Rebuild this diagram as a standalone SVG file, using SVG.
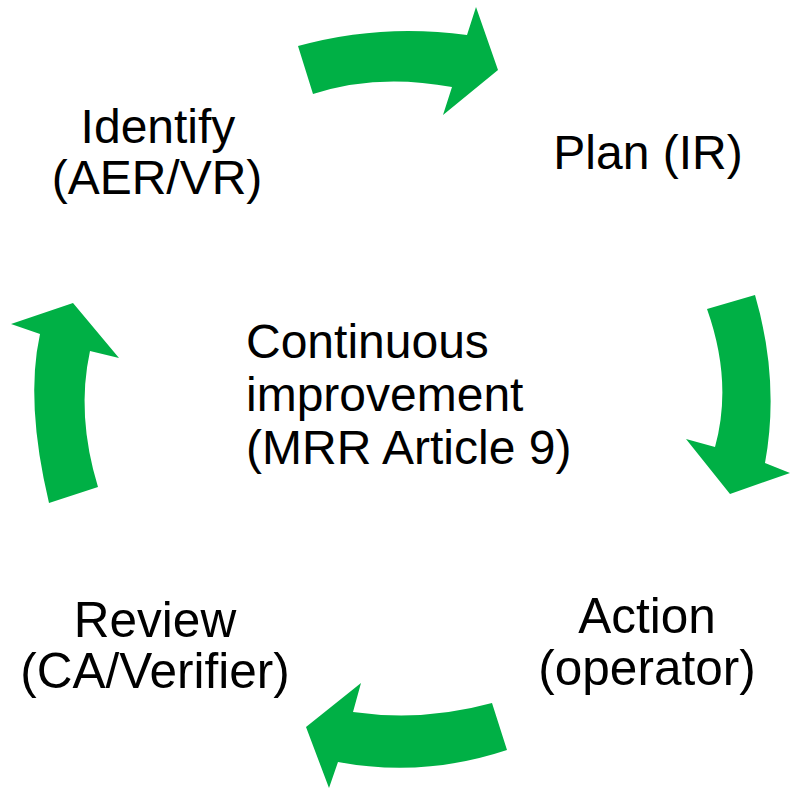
<svg xmlns="http://www.w3.org/2000/svg" width="790" height="789" viewBox="0 0 790 789">
<style>
.arrow{fill:#00B045;stroke:none}
text{font-family:"Liberation Sans",Arial,sans-serif;font-size:48px;fill:#000}
.c{text-anchor:middle}
.b{font-size:49.5px}
</style>
<rect width="790" height="789" fill="#fff"/>
<g id="connectors">
<path class="arrow" d="M298,46 Q381,23 467,35 L476,7 L498,70 L443,115 L452,87 Q377,73 313,94 Z"/>
<path class="arrow" d="M707,309 L755,295 Q780,381 765,463 L790,473 L730,494 L686,439 L715,447 Q733,382 707,309 Z"/>
<path class="arrow" d="M492,703 L507,750 Q423,778 338,762 L329,788 L306,727 L361,683 L353,712 Q423,722 492,703 Z"/>
<path class="arrow" d="M49,503 L98,487 Q76,415 90,351 L119,358 L73,303 L11,324 L40,334 Q25,402 49,503 Z"/>
</g>
<g id="identify"><text class="c" x="158" y="143">Identify</text><text class="c" x="157" y="194">(AER/VR)</text></g>
<g id="plan"><text class="c" x="648" y="169">Plan (IR)</text></g>
<g id="action"><text class="c b" x="647" y="633">Action</text><text class="c b" x="647" y="685">(operator)</text></g>
<g id="review"><text class="c b" x="155" y="637">Review</text><text class="c b" x="155" y="688">(CA/Verifier)</text></g>
<g id="center"><text x="246" y="358">Continuous</text><text x="246" y="411">improvement</text><text x="246" y="464">(MRR Article 9)</text></g>
</svg>
